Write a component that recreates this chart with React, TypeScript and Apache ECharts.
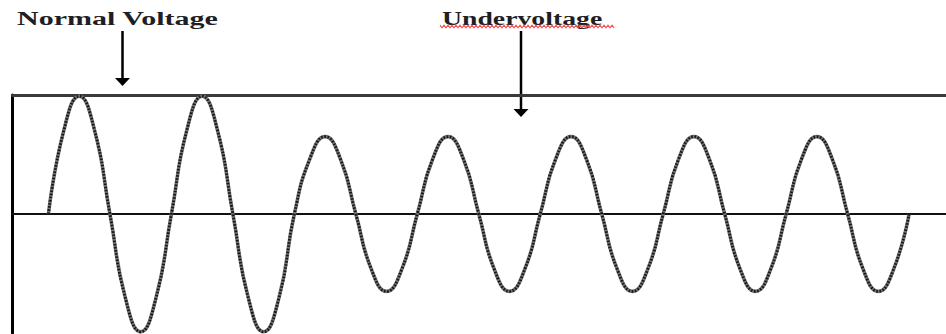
import React, { useEffect, useRef } from "react";
import * as echarts from "echarts";

// Time of each half cycle (ms) and the peak reached in each half cycle (per-unit)
const halfCycleMs = 10;
const halfCyclePeaks = [0.99, -0.99, 0.99, -0.99, 0.65, -0.65, 0.65, -0.65, 0.65, -0.65, 0.65, -0.65, 0.65, -0.65];
// Level of the wave at each quarter of a half cycle, as a share of that half cycle's peak
const quarterLevels = [0, 0.71, 1, 0.71];
const annotationLabels = ["Normal Voltage", "Undervoltage"];

function buildWave(): [number, number][] {
  const pts: [number, number][] = [];
  halfCyclePeaks.forEach((peak, i) => {
    quarterLevels.forEach((lvl, k) => {
      pts.push([i * halfCycleMs + (k * halfCycleMs) / quarterLevels.length, peak * lvl]);
    });
  });
  pts.push([halfCyclePeaks.length * halfCycleMs, 0]);
  return pts;
}

function wavyPoints(x0: number, x1: number, y: number): number[][] {
  const pts: number[][] = [];
  let up = true;
  for (let x = x0; x <= x1; x += 2) {
    pts.push([x, up ? y - 1.3 : y + 1.3]);
    up = !up;
  }
  return pts;
}

export default function App() {
  const ref = useRef<HTMLDivElement>(null);
  useEffect(() => {
    if (!ref.current) return;
    const chart = echarts.init(ref.current, undefined, { renderer: "svg" });
    const wave = buildWave();
    const hidden = { show: false };
    chart.setOption({
      animation: false,
      backgroundColor: "#ffffff",
      grid: { left: 12.5, right: 0, top: 95, bottom: 1, containLabel: false },
      xAxis: [
        {
          type: "value",
          min: -5.85,
          max: 146,
          axisLine: { show: true, onZero: true, lineStyle: { color: "#111111", width: 2 } },
          axisTick: hidden,
          axisLabel: hidden,
          splitLine: hidden,
        },
        {
          type: "value",
          position: "top",
          min: -5.85,
          max: 146,
          axisLine: { show: true, onZero: false, lineStyle: { color: "#3a3a3a", width: 3 } },
          axisTick: hidden,
          axisLabel: hidden,
          splitLine: hidden,
        },
      ],
      yAxis: {
        type: "value",
        min: -1,
        max: 1,
        axisLine: { show: true, onZero: false, lineStyle: { color: "#000000", width: 3 } },
        axisTick: hidden,
        axisLabel: hidden,
        splitLine: hidden,
      },
      series: [
        {
          type: "line",
          data: wave,
          smooth: true,
          showSymbol: false,
          silent: true,
          lineStyle: { color: "#747474", width: 3.6 },
        },
        {
          type: "line",
          data: wave,
          smooth: true,
          showSymbol: false,
          silent: true,
          lineStyle: { color: "#161616", width: 2.8, type: [1.6, 1.6] },
        },
      ],
      graphic: [
        {
          type: "text",
          x: 17,
          y: 19,
          scaleX: 1.58,
          style: {
            text: annotationLabels[0],
            font: 'bold 19px "Liberation Serif", serif',
            fill: "#1e1e24",
            textAlign: "left",
            textVerticalAlign: "middle",
          },
        },
        {
          type: "text",
          x: 442,
          y: 19,
          scaleX: 1.46,
          style: {
            text: annotationLabels[1],
            font: 'bold 19px "Liberation Serif", serif',
            fill: "#1e1e24",
            textAlign: "left",
            textVerticalAlign: "middle",
          },
        },
        {
          type: "polyline",
          shape: { points: wavyPoints(440, 615, 26.5) },
          style: { stroke: "#f05050", lineWidth: 1.1, fill: null },
        },
        { type: "line", shape: { x1: 122.5, y1: 31, x2: 122.5, y2: 80 }, style: { stroke: "#000", lineWidth: 2.5 } },
        { type: "polygon", shape: { points: [[115, 78], [130, 78], [122.5, 86]] }, style: { fill: "#000" } },
        { type: "line", shape: { x1: 521, y1: 31, x2: 521, y2: 111 }, style: { stroke: "#000", lineWidth: 2.5 } },
        { type: "polygon", shape: { points: [[513.5, 109], [528.5, 109], [521, 117]] }, style: { fill: "#000" } },
      ],
    });
    return () => chart.dispose();
  }, []);
  return (
    <div
      ref={ref}
      style={{ position: "absolute", left: 0, top: 0, width: 946, height: 334, background: "#fff" }}
    />
  );
}
